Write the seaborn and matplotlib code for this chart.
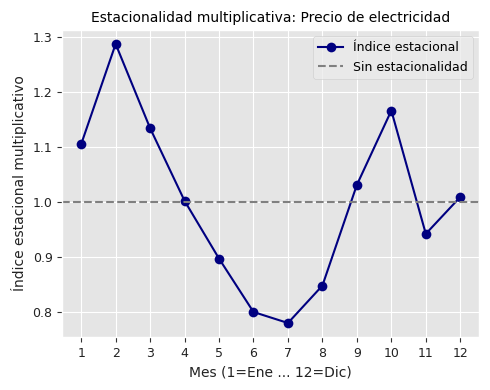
import matplotlib
matplotlib.use("Agg")
import matplotlib.pyplot as plt
import seaborn as sns
import pandas as pd

meses = [1, 2, 3, 4, 5, 6, 7, 8, 9, 10, 11, 12]
indice = [1.105, 1.287, 1.134, 1.002, 0.897, 0.800, 0.780, 0.848, 1.031, 1.166, 0.942, 1.009]

plt.style.use("ggplot")

df = pd.DataFrame({"Mes": meses, "Indice": indice})

fig, ax = plt.subplots(figsize=(4.9, 3.9), dpi=100)

sns.lineplot(
    x="Mes",
    y="Indice",
    data=df,
    marker="o",
    markersize=7,
    markeredgewidth=0,
    color="navy",
    linewidth=1.5,
    label="Índice estacional",
    ax=ax
)

ax.axhline(1.0, color="gray", linestyle="--", linewidth=1.5, label="Sin estacionalidad")

ax.set_xticks(meses)
ax.set_title("Estacionalidad multiplicativa: Precio de electricidad", fontsize=10)
ax.set_xlabel("Mes (1=Ene ... 12=Dic)", fontsize=10, color="#222222")
ax.set_ylabel("Índice estacional multiplicativo", fontsize=10, color="#222222")
ax.tick_params(labelsize=9, labelcolor="#222222", color="#333333")
ax.legend(fontsize=9, facecolor="#EBEBEB", edgecolor="#CCCCCC", loc="upper right")

plt.subplots_adjust(left=0.127, right=0.978, top=0.923, bottom=0.136)
plt.savefig("out.png")
